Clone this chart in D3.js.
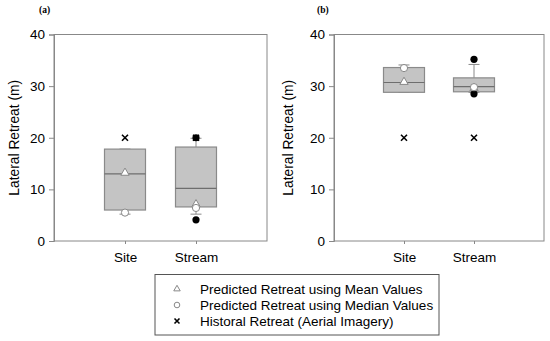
<!DOCTYPE html>
<html><head><meta charset="utf-8">
<script src="https://cdn.jsdelivr.net/npm/d3@7"></script>
<style>body{margin:0;background:#fff}svg{display:block}</style>
</head><body>
<svg id="c" width="550" height="341"></svg>
<script>
const categories = ["Site", "Stream"];
const yTicks = [0, 10, 20, 30, 40];
const panelLabels = ["(a)", "(b)"];
// panel (a)
const q1A = [6.0, 6.6], medA = [13.0, 10.2], q3A = [17.8, 18.2], whLoA = [5.2, 5.2], whHiA = [17.8, 19.9];
const outA = [[], [20.0, 4.1]];
const meanPredA = [13.2, 7.1], medianPredA = [5.5, 6.4], histA = [20, 20];
// panel (b)
const q1B = [28.8, 28.9], medB = [30.7, 29.9], q3B = [33.6, 31.6], whLoB = [28.8, 28.8], whHiB = [34.1, 34.2];
const outB = [[], [35.2, 28.5]];
const meanPredB = [30.8, 29.6], medianPredB = [33.5, 29.8], histB = [20, 20];
const legendLabels = ["Predicted Retreat using Mean Values", "Predicted Retreat using Median Values", "Historal Retreat (Aerial Imagery)"];

const svg = d3.select("#c");
const font = "'Liberation Sans', Arial, sans-serif";
const panels = [
  {x0: 54, x1: 267, q1: q1A, med: medA, q3: q3A, lo: whLoA, hi: whHiA, out: outA, mean: meanPredA, median: medianPredA, hist: histA, lab: panelLabels[0], labX: 39, yLabX: 14},
  {x0: 334, x1: 544, q1: q1B, med: medB, q3: q3B, lo: whLoB, hi: whHiB, out: outB, mean: meanPredB, median: medianPredB, hist: histB, lab: panelLabels[1], labX: 317, yLabX: 288}
];
const yTop = 34.5, yBot = 241;
const y = d3.scaleLinear().domain([0, 40]).range([yBot, yTop]);
const boxW = 41, capW = 11;
const frameC = "#888", boxFill = "#c4c4c4", boxStroke = "#8a8a8a";

function tri(g, cx, cy, s, fill, stroke) {
  g.append("path").attr("d", d3.symbol(d3.symbolTriangle, s)()).attr("transform", `translate(${cx},${cy})`)
    .attr("fill", fill).attr("stroke", stroke).attr("stroke-width", 1);
}
function xmark(g, cx, cy, h) {
  g.append("path").attr("d", `M${cx-h},${cy-h}L${cx+h},${cy+h}M${cx-h},${cy+h}L${cx+h},${cy-h}`)
    .attr("stroke", "#000").attr("stroke-width", 1.6);
}

panels.forEach(p => {
  const x = d3.scalePoint().domain(categories).range([p.x0, p.x1]).padding(1);
  const g = svg.append("g");
  g.append("rect").attr("x", p.x0).attr("y", yTop).attr("width", p.x1 - p.x0).attr("height", yBot - yTop)
    .attr("fill", "none").attr("stroke", frameC).attr("stroke-width", 1);
  const ya = g.append("g").attr("transform", `translate(${p.x0},0)`)
    .call(d3.axisLeft(y).tickValues(yTicks).tickSize(5).tickPadding(4).tickFormat(d3.format("d")));
  ya.select(".domain").attr("stroke", frameC);
  ya.selectAll(".tick line").attr("stroke", frameC);
  ya.selectAll("text").attr("font-family", font).attr("font-size", 13.5).attr("fill", "#000");
  const xa = g.append("g").attr("transform", `translate(0,${yBot})`)
    .call(d3.axisBottom(x).tickSize(3).tickPadding(8));
  xa.select(".domain").remove();
  xa.selectAll(".tick line").attr("stroke", frameC);
  xa.selectAll("text").attr("font-family", font).attr("font-size", 13.5).attr("fill", "#000");
  g.append("text").attr("transform", `translate(${p.yLabX},${(yTop + yBot) / 2}) rotate(-90)`)
    .attr("text-anchor", "middle").attr("dominant-baseline", "central")
    .attr("font-family", font).attr("font-size", 13.8).text("Lateral Retreat (m)");
  g.append("text").attr("x", p.labX).attr("y", 13).attr("font-family", "'Liberation Serif', serif")
    .attr("font-weight", "bold").attr("font-size", 9.5).text(p.lab);

  categories.forEach((c, i) => {
    const cx = x(c);
    g.append("line").attr("x1", cx).attr("x2", cx).attr("y1", y(p.hi[i])).attr("y2", y(p.q3[i])).attr("stroke", boxStroke);
    g.append("line").attr("x1", cx).attr("x2", cx).attr("y1", y(p.lo[i])).attr("y2", y(p.q1[i])).attr("stroke", boxStroke);
    [p.hi[i], p.lo[i]].forEach(v => g.append("line").attr("x1", cx - capW / 2).attr("x2", cx + capW / 2)
      .attr("y1", y(v)).attr("y2", y(v)).attr("stroke", boxStroke));
    g.append("rect").attr("x", cx - boxW / 2).attr("y", y(p.q3[i])).attr("width", boxW)
      .attr("height", y(p.q1[i]) - y(p.q3[i])).attr("fill", boxFill).attr("stroke", boxStroke).attr("stroke-width", 1.2);
    g.append("line").attr("x1", cx - boxW / 2).attr("x2", cx + boxW / 2).attr("y1", y(p.med[i])).attr("y2", y(p.med[i]))
      .attr("stroke", "#6e6e6e").attr("stroke-width", 1.2);
    xmark(g, cx, y(p.hist[i]), 3);
    p.out[i].forEach(v => g.append("circle").attr("cx", cx).attr("cy", y(v)).attr("r", 3.6).attr("fill", "#000"));
    tri(g, cx, y(p.mean[i]), 30, "#fff", "#888");
    g.append("circle").attr("cx", cx).attr("cy", y(p.median[i])).attr("r", 3.6).attr("fill", "#fff").attr("stroke", "#888");
  });
});

const lg = svg.append("g");
lg.append("rect").attr("x", 155).attr("y", 274.5).attr("width", 284).attr("height", 60.5)
  .attr("fill", "#fff").attr("stroke", "#555").attr("stroke-width", 1);
const rowY = [289, 305, 321];
legendLabels.forEach((t, i) => {
  lg.append("text").attr("x", 200).attr("y", rowY[i]).attr("dominant-baseline", "central")
    .attr("font-family", font).attr("font-size", 13.5).text(t);
});
tri(lg, 177, rowY[0], 18, "#fff", "#888");
lg.append("circle").attr("cx", 177).attr("cy", rowY[1]).attr("r", 2.8).attr("fill", "#fff").attr("stroke", "#888");
xmark(lg, 177, rowY[2], 2.5);
</script>
</body></html>
